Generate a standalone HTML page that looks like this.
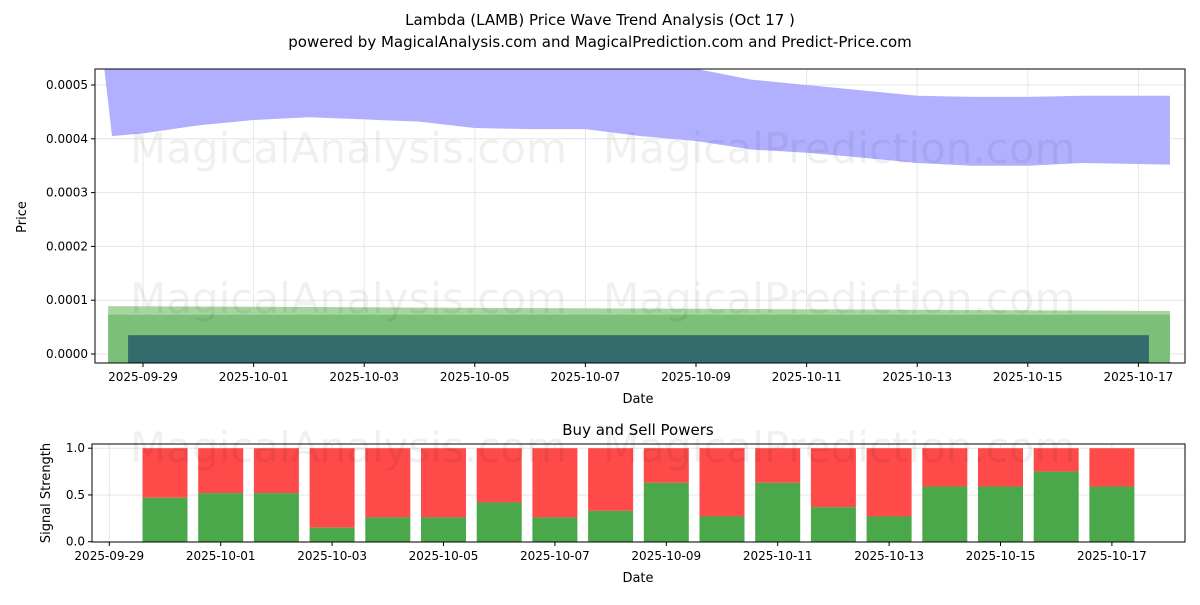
<!DOCTYPE html>
<html><head><meta charset="utf-8"><style>
body{margin:0;background:#fff;font-family:"Liberation Sans","DejaVu Sans",sans-serif;}
svg text{font-family:"DejaVu Sans","Liberation Sans",sans-serif;}
</style></head><body>
<svg id="c" width="1200" height="600" xmlns="http://www.w3.org/2000/svg">
<text x="600" y="25" text-anchor="middle" font-size="15">Lambda (LAMB) Price Wave Trend Analysis (Oct 17 )</text>
<text x="600" y="47" text-anchor="middle" font-size="15">powered by MagicalAnalysis.com and MagicalPrediction.com and Predict-Price.com</text>
<g id="top"></g><g id="bot"></g>
</svg>
<script>
// ---- data (days counted from 2025-09-28) ----
const bandDays=[0.3,0.44,1,2,3,4,5,6,7,8,9,10,11,12,13,14,15,16,17,18,19.57];
const bandUpper=[0.00056,0.00058,0.00059,0.0006,0.0006,0.0006,0.0006,0.0006,0.0006,0.0006,0.0006,0.0006,0.00053,0.00051,0.0005,0.00049,0.00048,0.000478,0.000478,0.00048,0.00048];
const bandLower=[0.00053,0.000405,0.00041,0.000425,0.000435,0.00044,0.000436,0.000432,0.00042,0.000418,0.000418,0.000405,0.000396,0.00038,0.000374,0.000365,0.000355,0.00035,0.00035,0.000355,0.000352];
const lightGreen={start:0.37,end:19.57,top0:0.000089,top1:0.00008,bottom:-0.000017};
const darkGreen={start:0.37,end:19.57,top:0.000073,bottom:-0.000017};
const tealBar={start:0.73,end:19.19,top:0.000035,bottom:-0.000017};
const yTicks=[0,0.0001,0.0002,0.0003,0.0004,0.0005];
const xTickLabels=["2025-09-29","2025-10-01","2025-10-03","2025-10-05","2025-10-07","2025-10-09","2025-10-11","2025-10-13","2025-10-15","2025-10-17"];
const xTickDays=[1,3,5,7,9,11,13,15,17,19];
const barDays=[2,3,4,5,6,7,8,9,10,11,12,13,14,15,16,17,18,19];
const buyVals=[0.47,0.52,0.52,0.15,0.26,0.26,0.42,0.26,0.33,0.63,0.27,0.63,0.37,0.27,0.59,0.59,0.75,0.59];
const bTicks=[0,0.5,1.0];
// ---- helpers ----
const NS="http://www.w3.org/2000/svg";
function mk(p,t,a,txt){const e=document.createElementNS(NS,t);for(const k in a)e.setAttribute(k,a[k]);if(txt!=null)e.textContent=txt;p.appendChild(e);return e;}
const T={l:95,r:1185,t:69,b:363};
const tx=d=>87.7+d*55.3;
const ty=v=>354-v*538000;
const topG=document.getElementById('top');
const cp=mk(topG,'clipPath',{id:'cpt'});mk(cp,'rect',{x:T.l,y:T.t,width:T.r-T.l,height:T.b-T.t});
const gT=mk(topG,'g',{'clip-path':'url(#cpt)'});
xTickDays.forEach(d=>{const l=mk(gT,'line',{x1:tx(d),x2:tx(d),y1:T.t,y2:T.b,stroke:'#e6e6e6'});});
yTicks.forEach(v=>{const l=mk(gT,'line',{x1:T.l,x2:T.r,y1:ty(v),y2:ty(v),stroke:'#e6e6e6'});});
let pts=bandDays.map((d,i)=>tx(d)+','+ty(bandUpper[i]));
for(let i=bandDays.length-1;i>=0;i--)pts.push(tx(bandDays[i])+','+ty(bandLower[i]));
const band=mk(gT,'polygon',{points:pts.join(' '),fill:'#b0b0ff'});

const lg=mk(gT,'polygon',{points:`${tx(lightGreen.start)},${ty(lightGreen.top0)} ${tx(lightGreen.end)},${ty(lightGreen.top1)} ${tx(lightGreen.end)},${ty(lightGreen.bottom)} ${tx(lightGreen.start)},${ty(lightGreen.bottom)}`,fill:'#a6d5a0'});

const dg=mk(gT,'rect',{x:tx(darkGreen.start),y:ty(darkGreen.top),width:tx(darkGreen.end)-tx(darkGreen.start),height:ty(darkGreen.bottom)-ty(darkGreen.top),fill:'#7bbf78'});

const tb=mk(gT,'rect',{x:tx(tealBar.start),y:ty(tealBar.top),width:tx(tealBar.end)-tx(tealBar.start),height:ty(tealBar.bottom)-ty(tealBar.top),fill:'#346b6c'});

[[130,163],[603,163],[130,313],[603,313]].forEach((p,i)=>{const w=mk(topG,'text',{x:p[0],y:p[1],'font-size':42,fill:'#000','fill-opacity':0.06},i%2?'MagicalPrediction.com':'MagicalAnalysis.com');});
mk(topG,'rect',{x:T.l,y:T.t,width:T.r-T.l,height:T.b-T.t,fill:'none',stroke:'#000','stroke-width':1});
yTicks.forEach(v=>{mk(topG,'line',{x1:T.l-4,x2:T.l,y1:ty(v),y2:ty(v),stroke:'#000'});const t=mk(topG,'text',{x:T.l-7,y:ty(v)+4,'text-anchor':'end','font-size':12},v.toFixed(4));});
xTickDays.forEach((d,i)=>{mk(topG,'line',{x1:tx(d),x2:tx(d),y1:T.b,y2:T.b+4,stroke:'#000'});const t=mk(topG,'text',{x:tx(d),y:T.b+18,'text-anchor':'middle','font-size':12},xTickLabels[i]);});
let a=mk(topG,'text',{x:638,y:403,'text-anchor':'middle','font-size':13},'Date');
a=mk(topG,'text',{x:26,y:217,'text-anchor':'middle','font-size':13,transform:'rotate(-90 26 217)'},'Price');
const B={l:92,r:1185,t:444,b:542};
const bx=d=>109.3+(d-1)*55.7;
const by=v=>541.7-v*93.5;
const botG=document.getElementById('bot');
a=mk(botG,'text',{x:638,y:435,'text-anchor':'middle','font-size':15},'Buy and Sell Powers');
xTickDays.forEach(d=>mk(botG,'line',{x1:bx(d),x2:bx(d),y1:B.t,y2:B.b,stroke:'#e6e6e6'}));
bTicks.forEach(v=>mk(botG,'line',{x1:B.l,x2:B.r,y1:by(v),y2:by(v),stroke:'#e6e6e6'}));
barDays.forEach((d,i)=>{const w=45,x=bx(d)-w/2;
 const s=mk(botG,'rect',{x:x,y:by(1),width:w,height:by(buyVals[i])-by(1),fill:'#ff4a4a'});
 const g=mk(botG,'rect',{x:x,y:by(buyVals[i]),width:w,height:by(0)-by(buyVals[i]),fill:'#4aa84a'});});
[[130,462],[603,462]].forEach((p,i)=>mk(botG,'text',{x:p[0],y:p[1],'font-size':42,fill:'#000','fill-opacity':0.06},i?'MagicalPrediction.com':'MagicalAnalysis.com'));
mk(botG,'rect',{x:B.l,y:B.t,width:B.r-B.l,height:B.b-B.t,fill:'none',stroke:'#000'});
bTicks.forEach(v=>{mk(botG,'line',{x1:B.l-4,x2:B.l,y1:by(v),y2:by(v),stroke:'#000'});const t=mk(botG,'text',{x:B.l-7,y:by(v)+4,'text-anchor':'end','font-size':12},v.toFixed(1));});
xTickDays.forEach((d,i)=>{mk(botG,'line',{x1:bx(d),x2:bx(d),y1:B.b,y2:B.b+4,stroke:'#000'});const t=mk(botG,'text',{x:bx(d),y:B.b+18,'text-anchor':'middle','font-size':12},xTickLabels[i]);});
a=mk(botG,'text',{x:638,y:582,'text-anchor':'middle','font-size':13},'Date');
a=mk(botG,'text',{x:50,y:493,'text-anchor':'middle','font-size':13,transform:'rotate(-90 50 493)'},'Signal Strength');
</script>
</body></html>
